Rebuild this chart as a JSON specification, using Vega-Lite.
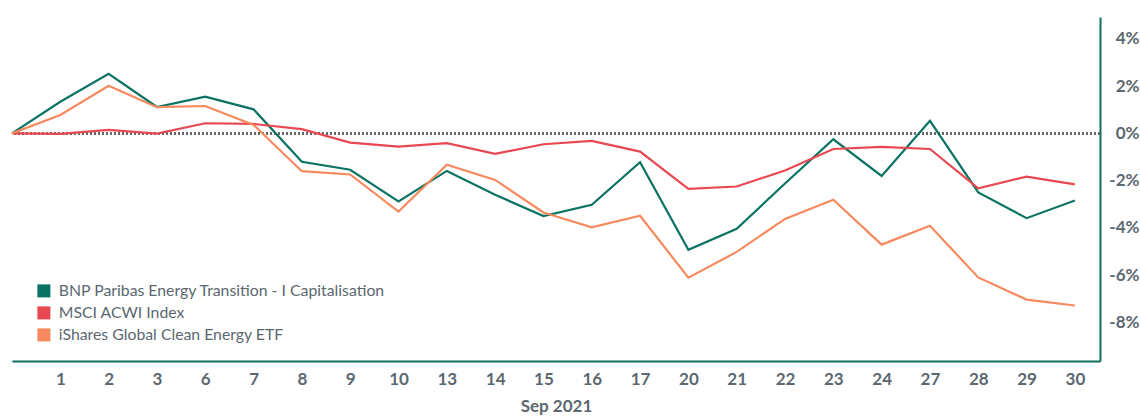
{
  "$schema": "https://vega.github.io/schema/vega-lite/v6.json",
  "autosize": "none",
  "width": 1088,
  "height": 344,
  "padding": {"left": 12, "top": 17, "right": 40, "bottom": 57},
  "background": "white",
  "config": {
    "view": {"stroke": null},
    "font": "Lato"
  },
  "data": {
    "values": [
      {"i": 0, "BNP Paribas Energy Transition - I Capitalisation": 0, "MSCI ACWI Index": 0, "iShares Global Clean Energy ETF": 0},
      {"i": 1, "BNP Paribas Energy Transition - I Capitalisation": 1.34, "MSCI ACWI Index": -0.02, "iShares Global Clean Energy ETF": 0.78},
      {"i": 2, "BNP Paribas Energy Transition - I Capitalisation": 2.52, "MSCI ACWI Index": 0.15, "iShares Global Clean Energy ETF": 2.02},
      {"i": 3, "BNP Paribas Energy Transition - I Capitalisation": 1.12, "MSCI ACWI Index": -0.01, "iShares Global Clean Energy ETF": 1.11},
      {"i": 4, "BNP Paribas Energy Transition - I Capitalisation": 1.56, "MSCI ACWI Index": 0.43, "iShares Global Clean Energy ETF": 1.16},
      {"i": 5, "BNP Paribas Energy Transition - I Capitalisation": 1.02, "MSCI ACWI Index": 0.4, "iShares Global Clean Energy ETF": 0.36},
      {"i": 6, "BNP Paribas Energy Transition - I Capitalisation": -1.2, "MSCI ACWI Index": 0.18, "iShares Global Clean Energy ETF": -1.6},
      {"i": 7, "BNP Paribas Energy Transition - I Capitalisation": -1.54, "MSCI ACWI Index": -0.39, "iShares Global Clean Energy ETF": -1.74},
      {"i": 8, "BNP Paribas Energy Transition - I Capitalisation": -2.88, "MSCI ACWI Index": -0.56, "iShares Global Clean Energy ETF": -3.31},
      {"i": 9, "BNP Paribas Energy Transition - I Capitalisation": -1.59, "MSCI ACWI Index": -0.41, "iShares Global Clean Energy ETF": -1.33},
      {"i": 10, "BNP Paribas Energy Transition - I Capitalisation": -2.6, "MSCI ACWI Index": -0.87, "iShares Global Clean Energy ETF": -1.97},
      {"i": 11, "BNP Paribas Energy Transition - I Capitalisation": -3.5, "MSCI ACWI Index": -0.46, "iShares Global Clean Energy ETF": -3.35},
      {"i": 12, "BNP Paribas Energy Transition - I Capitalisation": -3.02, "MSCI ACWI Index": -0.32, "iShares Global Clean Energy ETF": -3.98},
      {"i": 13, "BNP Paribas Energy Transition - I Capitalisation": -1.22, "MSCI ACWI Index": -0.77, "iShares Global Clean Energy ETF": -3.49},
      {"i": 14, "BNP Paribas Energy Transition - I Capitalisation": -4.93, "MSCI ACWI Index": -2.35, "iShares Global Clean Energy ETF": -6.11},
      {"i": 15, "BNP Paribas Energy Transition - I Capitalisation": -4.04, "MSCI ACWI Index": -2.25, "iShares Global Clean Energy ETF": -5.02},
      {"i": 16, "BNP Paribas Energy Transition - I Capitalisation": -2.12, "MSCI ACWI Index": -1.57, "iShares Global Clean Energy ETF": -3.62},
      {"i": 17, "BNP Paribas Energy Transition - I Capitalisation": -0.25, "MSCI ACWI Index": -0.66, "iShares Global Clean Energy ETF": -2.81},
      {"i": 18, "BNP Paribas Energy Transition - I Capitalisation": -1.8, "MSCI ACWI Index": -0.57, "iShares Global Clean Energy ETF": -4.71},
      {"i": 19, "BNP Paribas Energy Transition - I Capitalisation": 0.53, "MSCI ACWI Index": -0.66, "iShares Global Clean Energy ETF": -3.91},
      {"i": 20, "BNP Paribas Energy Transition - I Capitalisation": -2.5, "MSCI ACWI Index": -2.33, "iShares Global Clean Energy ETF": -6.1},
      {"i": 21, "BNP Paribas Energy Transition - I Capitalisation": -3.59, "MSCI ACWI Index": -1.83, "iShares Global Clean Energy ETF": -7.04},
      {"i": 22, "BNP Paribas Energy Transition - I Capitalisation": -2.84, "MSCI ACWI Index": -2.16, "iShares Global Clean Energy ETF": -7.29}
    ]
  },
  "layer": [
    {
      "mark": {"type": "rule", "stroke": "#666666", "strokeWidth": 1.5, "strokeDash": [1.5, 2.5]},
      "encoding": {"y": {"datum": 0}}
    },
    {
      "transform": [
        {"fold": ["BNP Paribas Energy Transition - I Capitalisation", "MSCI ACWI Index", "iShares Global Clean Energy ETF"], "as": ["series", "value"]}
      ],
      "mark": {"type": "line", "strokeWidth": 2.2},
      "encoding": {
        "x": {
          "field": "i",
          "type": "quantitative",
          "scale": {"domain": [0, 22.52], "nice": false, "zero": false},
          "axis": {
            "values": [1,2,3,4,5,6,7,8,9,10,11,12,13,14,15,16,17,18,19,20,21,22],
            "labelExpr": "['','1','2','3','6','7','8','9','10','13','14','15','16','17','20','21','22','23','24','27','28','29','30'][datum.value]",
            "grid": false,
            "ticks": false,
            "domainColor": "#0f6e62",
            "domainWidth": 2,
            "labelFont": "Lato",
            "labelFontWeight": "bold",
            "labelFontSize": 17,
            "labelColor": "#5b6870",
            "labelPadding": 10,
            "labelFlush": false,
            "title": "Sep 2021",
            "titleFont": "Lato",
            "titleFontWeight": "bold",
            "titleFontSize": 17,
            "titleColor": "#5b6870",
            "titlePadding": 11
          }
        },
        "y": {
          "field": "value",
          "type": "quantitative",
          "scale": {"domain": [-9.64, 4.93], "nice": false, "zero": false},
          "axis": {
            "orient": "right",
            "values": [-8, -6, -4, -2, 0, 2, 4],
            "labelExpr": "datum.value + '%'",
            "grid": false,
            "ticks": false,
            "domainColor": "#0f6e62",
            "domainWidth": 2,
            "labelFont": "Lato",
            "labelFontWeight": "bold",
            "labelFontSize": 17,
            "labelColor": "#5b6870",
            "labelAlign": "right",
            "labelPadding": 39,
            "title": null
          }
        },
        "color": {
          "field": "series",
          "type": "nominal",
          "scale": {
            "domain": ["BNP Paribas Energy Transition - I Capitalisation", "MSCI ACWI Index", "iShares Global Clean Energy ETF"],
            "range": ["#0b7363", "#e84852", "#f6895d"]
          },
          "legend": {
            "orient": "none",
            "legendX": 24,
            "legendY": 266,
            "title": null,
            "symbolType": "square",
            "symbolSize": 170,
            "symbolStrokeWidth": 0,
            "symbolOpacity": 1,
            "labelFont": "Lato",
            "labelFontSize": 15.8,
            "labelColor": "#5b6870",
            "labelLimit": 0,
            "labelOffset": 7,
            "rowPadding": 5,
            "encode": {
              "symbols": {
                "update": {
                  "fill": {"scale": "color", "field": "value"},
                  "fillOpacity": {"value": 1},
                  "strokeWidth": {"value": 0}
                }
              }
            }
          }
        }
      }
    }
  ]
}
